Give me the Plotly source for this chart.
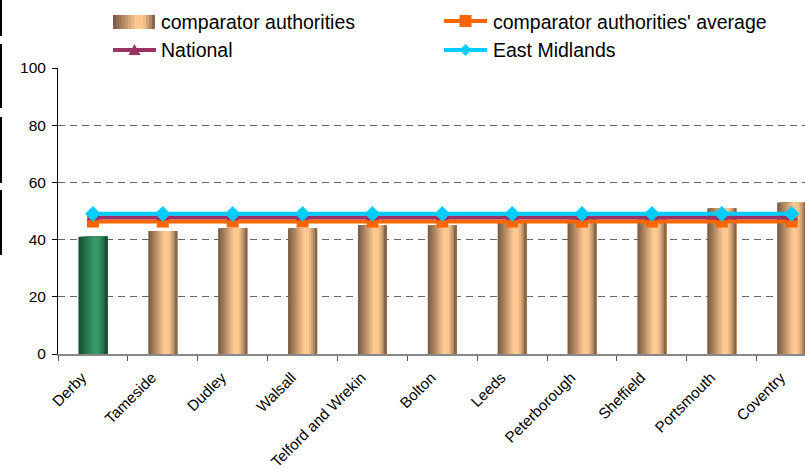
import plotly.graph_objects as go

# ---- data ----
categories = ["Derby", "Tameside", "Dudley", "Walsall", "Telford and Wrekin",
              "Bolton", "Leeds", "Peterborough", "Sheffield", "Portsmouth", "Coventry"]
authority_values = [41, 43, 44, 44, 45, 45, 46, 47, 47, 51, 53]
comparator_average = [46.3, 46.3, 46.3, 46.3, 46.3, 46.3, 46.3, 46.3, 46.3, 46.3, 46.3]
national = [47.7, 47.7, 47.7, 47.7, 47.7, 47.7, 47.7, 47.7, 47.7, 47.7, 47.7]
east_midlands = [49, 49, 49, 49, 49, 49, 49, 49, 49, 49, 49]
y_ticks = [0, 20, 40, 60, 80, 100]
highlight = "Derby"

FONT = "Liberation Sans, Arial, sans-serif"
W, H = 805, 470
ML, MR, MT, MB = 58, 0, 68, 116
PW, PH = W - ML - MR, H - MT - MB
CAT_PX = 69.87  # category spacing in px


def px2x(px):
    return (px - ML) / PW


def px2y(py):
    return (MT + PH - py) / PH


def hex2rgb(h):
    h = h.lstrip("#")
    return tuple(int(h[i:i + 2], 16) for i in (0, 2, 4))


def grad(stops, t):
    for (t0, c0), (t1, c1) in zip(stops, stops[1:]):
        if t0 <= t <= t1:
            f = 0 if t1 == t0 else (t - t0) / (t1 - t0)
            a, b = hex2rgb(c0), hex2rgb(c1)
            return "rgb(%d,%d,%d)" % tuple(round(a[k] + (b[k] - a[k]) * f) for k in range(3))
    return stops[-1][1]


brown = [(0, "#745842"), (0.25, "#b38963"), (0.55, "#ffca93"), (0.72, "#fcc68e"),
         (0.88, "#b68c66"), (1, "#76593f")]
green = [(0, "#174a2e"), (0.25, "#24704a"), (0.55, "#3a9a6b"), (0.72, "#349163"),
         (0.88, "#236b45"), (1, "#15432a")]

fig = go.Figure()

# gradient bars: each layer starts further right and runs to the bar's right edge
N = 15
bw = 0.415
for i in range(N):
    t = (i + 0.5) / N
    cols = [grad(green, t) if c == highlight else grad(brown, t) for c in categories]
    start = -bw / 2 + i * bw / N
    fig.add_trace(go.Bar(
        x=categories, y=authority_values,
        width=bw / 2 - start, offset=start,
        marker=dict(color=cols, line=dict(width=0)),
        showlegend=False, hoverinfo="skip" if i else "x+y"))

fig.add_trace(go.Scatter(
    x=categories, y=comparator_average, mode="lines+markers",
    line=dict(color="#ff6600", width=4),
    marker=dict(symbol="square", size=12, color="#ff6600"),
    name="comparator authorities' average", showlegend=False))
fig.add_trace(go.Scatter(
    x=categories, y=national, mode="lines+markers",
    line=dict(color="#993366", width=4),
    marker=dict(symbol="triangle-up", size=11, color="#993366"),
    name="National", showlegend=False))
fig.add_trace(go.Scatter(
    x=categories, y=east_midlands, mode="lines+markers",
    line=dict(color="#00ccff", width=4),
    marker=dict(symbol="diamond", size=12, color="#00ccff"),
    name="East Midlands", showlegend=False))

shapes = []
annotations = []

# left edge artefact lines
for y0, y1 in [(0, 36), (44, 108), (117, 183), (190, 255)]:
    shapes.append(dict(type="line", xref="paper", yref="paper",
                       x0=px2x(1), x1=px2x(1), y0=px2y(y0), y1=px2y(y1),
                       line=dict(color="black", width=2)))

# legend: bar gradient symbol
LN = 14
x0s, x1s = 113, 155
for i in range(LN):
    t = (i + 0.5) / LN
    a = x0s + (x1s - x0s) * i / LN
    shapes.append(dict(type="rect", xref="paper", yref="paper",
                       x0=px2x(a), x1=px2x(x1s), y0=px2y(29), y1=px2y(15),
                       fillcolor=grad(brown, t), line=dict(width=0)))


def legend_line(xa, xb, yc, color, marker):
    shapes.append(dict(type="line", xref="paper", yref="paper",
                       x0=px2x(xa), x1=px2x(xb), y0=px2y(yc), y1=px2y(yc),
                       line=dict(color=color, width=4)))
    cx = (xa + xb) / 2
    if marker == "square":
        path = "M-6,-6 L6,-6 L6,6 L-6,6 Z"
    elif marker == "triangle":
        path = "M-6,-5 L6,-5 L0,6 Z"
    else:
        path = "M0,-6 L6,0 L0,6 L-6,0 Z"
    shapes.append(dict(type="path", xref="paper", yref="paper",
                       xsizemode="pixel", ysizemode="pixel",
                       xanchor=px2x(cx), yanchor=px2y(yc), path=path,
                       fillcolor=color, line=dict(width=0)))


legend_line(113, 156, 50, "#993366", "triangle")
legend_line(444, 487, 21, "#ff6600", "square")
legend_line(444, 487, 50, "#00ccff", "diamond")

for txt, xp, yp in [("comparator authorities", 159, 22),
                    ("comparator authorities' average", 491, 22),
                    ("National", 159, 50),
                    ("East Midlands", 491, 50)]:
    annotations.append(dict(text=txt, xref="paper", yref="paper",
                            x=px2x(xp), y=px2y(yp), xanchor="left", yanchor="middle",
                            showarrow=False,
                            font=dict(family=FONT, size=19.5, color="black")))

fig.update_layout(
    width=W, height=H,
    margin=dict(l=ML, r=MR, t=MT, b=MB, pad=0, autoexpand=False),
    paper_bgcolor="white", plot_bgcolor="white",
    barmode="overlay",
    showlegend=False,
    shapes=shapes, annotations=annotations,
    font=dict(family=FONT, color="black"),
    xaxis=dict(
        type="category", automargin=False,
        range=[-0.5, -0.5 + PW / CAT_PX],
        showgrid=False, zeroline=False,
        showline=True, linecolor="#888888", linewidth=1.5,
        ticks="outside", tickson="boundaries", ticklen=5, tickcolor="#555555",
        tickangle=-45, tickfont=dict(family=FONT, size=15.2, color="black"),
        ticklabelstandoff=7, ticklabelshift=-11,
        fixedrange=True),
    yaxis=dict(
        range=[0, 100], tickvals=y_ticks, automargin=False,
        showgrid=True, gridcolor="#666666", gridwidth=1, griddash="7px,5px",
        zeroline=False,
        showline=True, linecolor="black", linewidth=1,
        ticks="outside", ticklen=5, tickcolor="black",
        tickfont=dict(family=FONT, size=15.5, color="black"),
        ticklabelstandoff=3,
        fixedrange=True),
)

fig.write_html("out.html")
